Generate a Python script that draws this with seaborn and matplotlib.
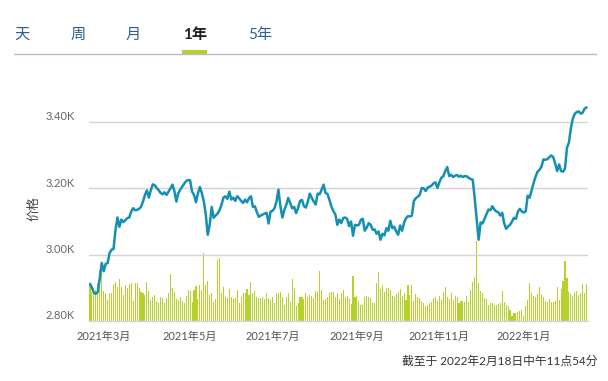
import numpy as np
import pandas as pd
import matplotlib
matplotlib.use("Agg")
import matplotlib.pyplot as plt
import seaborn as sns
from matplotlib.transforms import ScaledTranslation

# trading days shown (US market calendar, 2021-02-18 .. 2022-02-17)
start_date = '2021-02-18'
end_date = '2022-02-17'
holidays = ['2021-04-02', '2021-05-31', '2021-07-05', '2021-09-06',
            '2021-11-25', '2021-12-24', '2022-01-17']

price = [
    2912, 2900, 2885, 2882, 2888, 2930, 2975, 2950, 2972, 2975,
    3005, 3015, 3017, 3075, 3112, 3084, 3106, 3098, 3104, 3110,
    3112, 3130, 3140, 3134, 3135, 3138, 3144, 3160, 3180, 3194,
    3172, 3195, 3212, 3209, 3201, 3194, 3186, 3182, 3188, 3180,
    3190, 3200, 3211, 3192, 3160, 3185, 3196, 3205, 3214, 3222,
    3225, 3224, 3190, 3180, 3158, 3185, 3204, 3185, 3160, 3120,
    3060, 3090, 3144, 3111, 3118, 3124, 3134, 3150, 3172, 3176,
    3168, 3190, 3166, 3172, 3162, 3176, 3170, 3162, 3156, 3166,
    3158, 3170, 3176, 3144, 3146, 3128, 3114, 3118, 3121, 3124,
    3126, 3094, 3130, 3132, 3140, 3160, 3196, 3146, 3112, 3135,
    3150, 3171, 3156, 3140, 3144, 3125, 3140, 3162, 3165, 3146,
    3142, 3160, 3184, 3171, 3160, 3151, 3184, 3182, 3196, 3211,
    3186, 3183, 3165, 3145, 3131, 3121, 3090, 3106, 3095, 3110,
    3112, 3108, 3086, 3100, 3057, 3090, 3088, 3090, 3105, 3108,
    3072, 3082, 3095, 3090, 3075, 3076, 3063, 3070, 3045, 3063,
    3058, 3080, 3072, 3102, 3080, 3084, 3070, 3060, 3088, 3072,
    3096, 3110, 3116, 3115, 3118, 3162, 3170, 3175, 3180, 3201,
    3200, 3192, 3202, 3205, 3208, 3215, 3218, 3201, 3218, 3232,
    3236, 3252, 3264, 3237, 3241, 3234, 3238, 3240, 3235, 3238,
    3234, 3237, 3236, 3231, 3228, 3226, 3170, 3108, 3045, 3097,
    3094, 3108, 3122, 3136, 3134, 3146, 3136, 3130, 3128, 3118,
    3126, 3095, 3078, 3085, 3090, 3100, 3111, 3108, 3130, 3138,
    3130, 3127, 3131, 3178, 3172, 3194, 3216, 3235, 3250, 3256,
    3265, 3287, 3286, 3288, 3294, 3299, 3294, 3275, 3252, 3272,
    3252, 3250, 3260, 3322, 3338, 3382, 3410, 3425, 3430, 3432,
    3425, 3428, 3440, 3444,
]

volume = [
    38, 29, 33, 31, 38, 51, 48, 30, 28, 21,
    28, 28, 37, 39, 34, 42, 34, 26, 36, 33,
    37, 38, 20, 38, 38, 33, 29, 28, 26, 39,
    30, 21, 24, 26, 20, 18, 24, 23, 18, 23,
    28, 47, 33, 29, 22, 21, 24, 20, 18, 25,
    31, 30, 19, 31, 35, 22, 36, 31, 68, 36,
    40, 26, 28, 19, 22, 61, 63, 28, 34, 24,
    23, 32, 24, 22, 23, 31, 18, 24, 28, 28,
    32, 26, 39, 28, 30, 24, 23, 23, 24, 22,
    28, 23, 21, 24, 18, 28, 28, 29, 24, 16,
    24, 28, 19, 42, 33, 15, 18, 24, 24, 22,
    28, 24, 26, 25, 23, 30, 29, 50, 31, 21,
    22, 24, 28, 29, 29, 24, 28, 22,
    28, 31, 24, 25, 22, 17, 45, 24, 25, 20,
    16, 16, 24, 25, 24, 23, 18, 18, 38, 49,
    32, 36, 29, 33, 33, 31, 25, 24, 27, 29,
    32, 25, 28, 21, 36, 26, 36, 20, 27, 24,
    23, 20, 18, 15, 16, 18, 19, 23, 24, 20,
    25, 21, 29, 34, 24, 22, 28, 21, 25, 24,
    18, 20, 20, 19, 25, 19, 31, 39, 43, 80,
    38, 30, 28, 23, 22, 16, 18, 18, 16, 16,
    17, 18, 30, 19, 16, 15, 11, 5, 8, 8,
    9, 10, 11, 5, 15, 21, 38, 28, 25, 24,
    27, 34, 26, 24, 20, 19, 22, 19, 19, 20,
    34, 21, 32, 40, 60, 43, 29, 27, 25, 29,
    30, 26, 28, 37, 28, 37,
]

tabs = ['天', '周', '月', '1年', '5年']
y_ticks = [2800, 3000, 3200, 3400]
y_tick_labels = ['2.80K', '3.00K', '3.20K', '3.40K']
tick_months = ['2021-03', '2021-05', '2021-07', '2021-09', '2021-11', '2022-01']
tick_labels = ['2021年3月', '2021年5月', '2021年7月', '2021年9月', '2021年11月', '2022年1月']
y_label = '价格'
footer = '截至于 2022年2月18日中午11点54分'

dates = pd.bdate_range(start_date, end_date, freq='C', holidays=holidays)
n = min(len(dates), len(price), len(volume))
df = pd.DataFrame({'idx': np.arange(n), 'date': dates[:n],
                   'price': price[:n], 'volume': volume[:n]})
month = df['date'].dt.strftime('%Y-%m')
tick_pos = [int(df.loc[month == m, 'idx'].iloc[0]) for m in tick_months]

sns.set_style('white')
plt.rcParams['font.family'] = ['Lato', 'Noto Sans CJK SC', 'DejaVu Sans']

line_col = '#1590b2'
bar_col = '#b8d12a'

fig = plt.figure(figsize=(6.08, 3.81), dpi=100)
ax = fig.add_axes([0.1464, 0.1575, 0.82, 0.592])
ax2 = ax.twinx()

sns.barplot(data=df, x='idx', y='volume', native_scale=True, color=bar_col,
            width=0.55, saturation=1, ax=ax2, linewidth=0)
ax2.set_ylim(0, 225.6)
ax2.set_yticks([])
ax2.set_ylabel('')

sns.lineplot(data=df, x='idx', y='price', color=line_col, linewidth=1.8, ax=ax)
ax.set_zorder(ax2.get_zorder() + 1)
ax.patch.set_visible(False)

ax.set_xlim(-0.5, n - 0.5)
ax.set_ylim(2800, 3480)
ax.set_yticks(y_ticks)
ax.set_yticklabels(y_tick_labels)
ax.yaxis.grid(True, color='#d4d4d4', linewidth=1)
ax.set_axisbelow(True)
ax.set_xticks(tick_pos)
ax.set_xticklabels(tick_labels)
ax.set_xlabel('')
ax.set_ylabel(y_label, color='#444444', fontsize=9, labelpad=5)
ax.tick_params(axis='y', length=0, pad=10, labelsize=8, labelcolor='#666666')
ax.tick_params(axis='x', length=4.5, width=1, color='#c8c8c8', pad=3,
               labelsize=8, labelcolor='#555555')
for lab in ax.get_yticklabels():
    lab.set_transform(lab.get_transform() + ScaledTranslation(0, 0.06, fig.dpi_scale_trans))

for a in (ax, ax2):
    for side in ['top', 'right', 'left']:
        a.spines[side].set_visible(False)
    a.spines['bottom'].set_color('#d4d4d4')

# period tabs
tab_x = [22, 78, 133, 195, 260]
for t, x in zip(tabs, tab_x):
    sel = t == '1年'
    fig.text(x / 608, 1 - 35 / 381, t, ha='center', va='center', fontsize=11,
             color='#222222' if sel else '#2c5f8f',
             fontweight='bold' if sel else 'normal')
fig.add_artist(plt.Line2D([14 / 608, 596 / 608], [1 - 53.5 / 381] * 2,
                          color='#b4bccd', linewidth=1))
fig.add_artist(plt.Rectangle((182 / 608, 1 - 55 / 381), 25 / 608, 5 / 381,
                             color=bar_col, linewidth=0))

fig.text(598 / 608, 1 - 361 / 381, footer, ha='right', va='center',
         fontsize=8.5, color='#333333')

fig.savefig('out.png', dpi=100)
